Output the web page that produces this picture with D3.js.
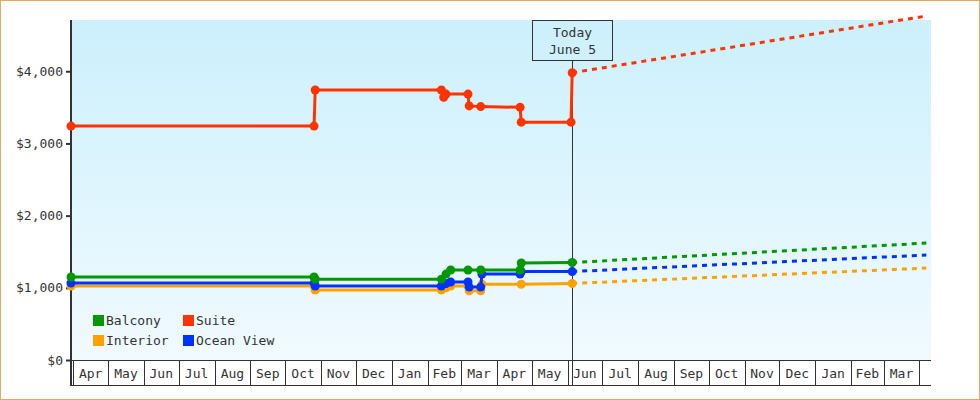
<html>
<script src="https://d3js.org/d3.v7.min.js"></script>
<style>
    body { margin: 0; background: #fff; }
    text { font-family: "DejaVu Sans Mono", monospace; font-size: 13px; fill: #333; }
</style>
<body>
<svg id="chart" width=980 height=400></svg>
<script>
// price history, [date, price]
var balcony = [["2023-03-30",1150],["2023-10-26",1150],["2023-10-27",1120],["2024-02-13",1120],["2024-02-17",1190],
    ["2024-02-21",1247],["2024-03-07",1247],["2024-03-18",1247],["2024-04-21",1247],["2024-04-22",1343],["2024-06-05",1350]];
var suite = [["2023-03-30",3240],["2023-10-26",3240],["2023-10-27",3740],["2024-02-13",3740],["2024-02-15",3640],
    ["2024-02-17",3684],["2024-03-07",3684],["2024-03-08",3520],["2024-03-18",3510],["2024-04-21",3500],
    ["2024-04-22",3295],["2024-06-04",3295],["2024-06-05",3980]];
var interior = [["2023-03-30",1025],["2023-10-26",1025],["2023-10-27",970],["2024-02-13",970],["2024-02-17",1000],
    ["2024-02-21",1025],["2024-03-07",1025],["2024-03-08",960],["2024-03-18",960],["2024-03-19",1050],
    ["2024-04-22",1050],["2024-06-05",1060]];
var oceanView = [["2023-03-30",1065],["2023-10-26",1065],["2023-10-27",1025],["2024-02-13",1025],["2024-02-17",1060],
    ["2024-02-21",1080],["2024-03-07",1080],["2024-03-08",1010],["2024-03-18",1010],["2024-03-19",1190],
    ["2024-04-21",1190],["2024-04-22",1225],["2024-06-05",1225]];

// projected prices
var balconyProj = [["2024-06-05",1350],["2025-04-07",1620]];
var suiteProj = [["2024-06-05",3980],["2025-04-07",4765]];
var interiorProj = [["2024-06-05",1060],["2025-04-07",1274]];
var oceanViewProj = [["2024-06-05",1225],["2025-04-07",1454]];

var yTicks = [0, 1000, 2000, 3000, 4000];
var today = "2024-06-05";

var series = [
    {name: "Interior", color: "#ffa200", hist: interior, proj: interiorProj},
    {name: "Ocean View", color: "#0033ff", hist: oceanView, proj: oceanViewProj},
    {name: "Balcony", color: "#009900", hist: balcony, proj: balconyProj},
    {name: "Suite", color: "#ff3300", hist: suite, proj: suiteProj}
];

var parse = d3.timeParse("%Y-%m-%d");
var svg = d3.select("#chart");

// outer border
svg.append("rect").attr("x", 0.5).attr("y", 0.5).attr("width", 979).attr("height", 399)
    .attr("fill", "white").attr("stroke", "#e8a860");

var pLeft = 71, pRight = 931, pTop = 20, pBottom = 360;
var x = d3.scaleTime().domain([parse("2023-03-30"), parse("2025-04-11")]).range([pLeft, pRight]);
var y = d3.scaleLinear().domain([0, 4710]).range([pBottom, pTop]);

var grad = svg.append("defs").append("linearGradient").attr("id", "bg")
    .attr("x1", 0).attr("y1", 0).attr("x2", 0).attr("y2", 1);
grad.append("stop").attr("offset", "0%").attr("stop-color", "#ccf0fc");
grad.append("stop").attr("offset", "100%").attr("stop-color", "#f1faff");
svg.append("rect").attr("x", pLeft).attr("y", pTop).attr("width", pRight - pLeft).attr("height", pBottom - pTop)
    .attr("fill", "url(#bg)");

// month cells under the plot
var months = d3.timeMonth.range(parse("2023-04-01"), parse("2025-04-01"));
var ax = svg.append("g");
ax.append("line").attr("x1", pLeft).attr("x2", pRight).attr("y1", pBottom + 0.5).attr("y2", pBottom + 0.5).attr("stroke", "#333");
ax.append("line").attr("x1", pLeft).attr("x2", pRight).attr("y1", 385.5).attr("y2", 385.5).attr("stroke", "#333");
months.concat([parse("2025-04-01")]).forEach(function(m) {
    var px = Math.round(x(m)) + 0.5;
    ax.append("line").attr("x1", px).attr("x2", px).attr("y1", pBottom).attr("y2", 386).attr("stroke", "#333");
});
ax.selectAll(".mlabel").data(months).enter().append("text")
    .attr("x", function(d) { return (x(d) + x(d3.timeMonth.offset(d, 1))) / 2; })
    .attr("y", 378)
    .attr("text-anchor", "middle")
    .text(d3.timeFormat("%b"));

// y axis
var yAxis = svg.append("g").attr("transform", "translate(" + pLeft + ",0)")
    .call(d3.axisLeft(y).tickValues(yTicks).tickSize(5).tickPadding(3).tickFormat(function(d) { return "$" + d3.format(",")(d); }));
yAxis.select(".domain").remove();
yAxis.selectAll(".tick line").attr("stroke", "#333").attr("stroke-width", 2);
yAxis.selectAll("text").attr("font-family", "DejaVu Sans Mono").attr("font-size", 13).attr("fill", "#333");
svg.append("line").attr("x1", pLeft).attr("x2", pLeft).attr("y1", pTop).attr("y2", 386)
    .attr("stroke", "#333").attr("stroke-width", 2);

// today marker
var tx = Math.round(x(parse(today))) + 0.5;
svg.append("line").attr("x1", tx).attr("x2", tx).attr("y1", 60).attr("y2", 386).attr("stroke", "#333");
svg.append("rect").attr("x", tx - 40).attr("y", pTop + 0.5).attr("width", 80).attr("height", 40)
    .attr("fill", "none").attr("stroke", "#333");
svg.append("text").attr("x", tx).attr("y", 37).attr("text-anchor", "middle").text("Today");
svg.append("text").attr("x", tx).attr("y", 54).attr("text-anchor", "middle").text("June 5");

var line = d3.line().x(function(d) { return x(parse(d[0])); }).y(function(d) { return y(d[1]); });

series.forEach(function(s) {
    svg.append("path").attr("d", line(s.proj)).attr("fill", "none")
        .attr("stroke", s.color).attr("stroke-width", 3).attr("stroke-dasharray", "5,5");
});
series.forEach(function(s) {
    svg.append("path").attr("d", line(s.hist)).attr("fill", "none")
        .attr("stroke", s.color).attr("stroke-width", 3);
    svg.selectAll(null).data(s.hist).enter().append("circle")
        .attr("cx", function(d) { return x(parse(d[0])); })
        .attr("cy", function(d) { return y(d[1]); })
        .attr("r", 4.5)
        .attr("fill", s.color);
});

// legend
var legend = [
    {name: "Balcony", color: "#009900", lx: 93, ly: 315},
    {name: "Suite", color: "#ff3300", lx: 183, ly: 315},
    {name: "Interior", color: "#ffa200", lx: 93, ly: 335},
    {name: "Ocean View", color: "#0033ff", lx: 183, ly: 335}
];
var lg = svg.selectAll(".legend").data(legend).enter().append("g");
lg.append("rect").attr("x", function(d) { return d.lx; }).attr("y", function(d) { return d.ly; })
    .attr("width", 11).attr("height", 11).attr("fill", function(d) { return d.color; });
lg.append("text").attr("x", function(d) { return d.lx + 13; }).attr("y", function(d) { return d.ly + 10; })
    .text(function(d) { return d.name; });
</script>
</body>
</html>
